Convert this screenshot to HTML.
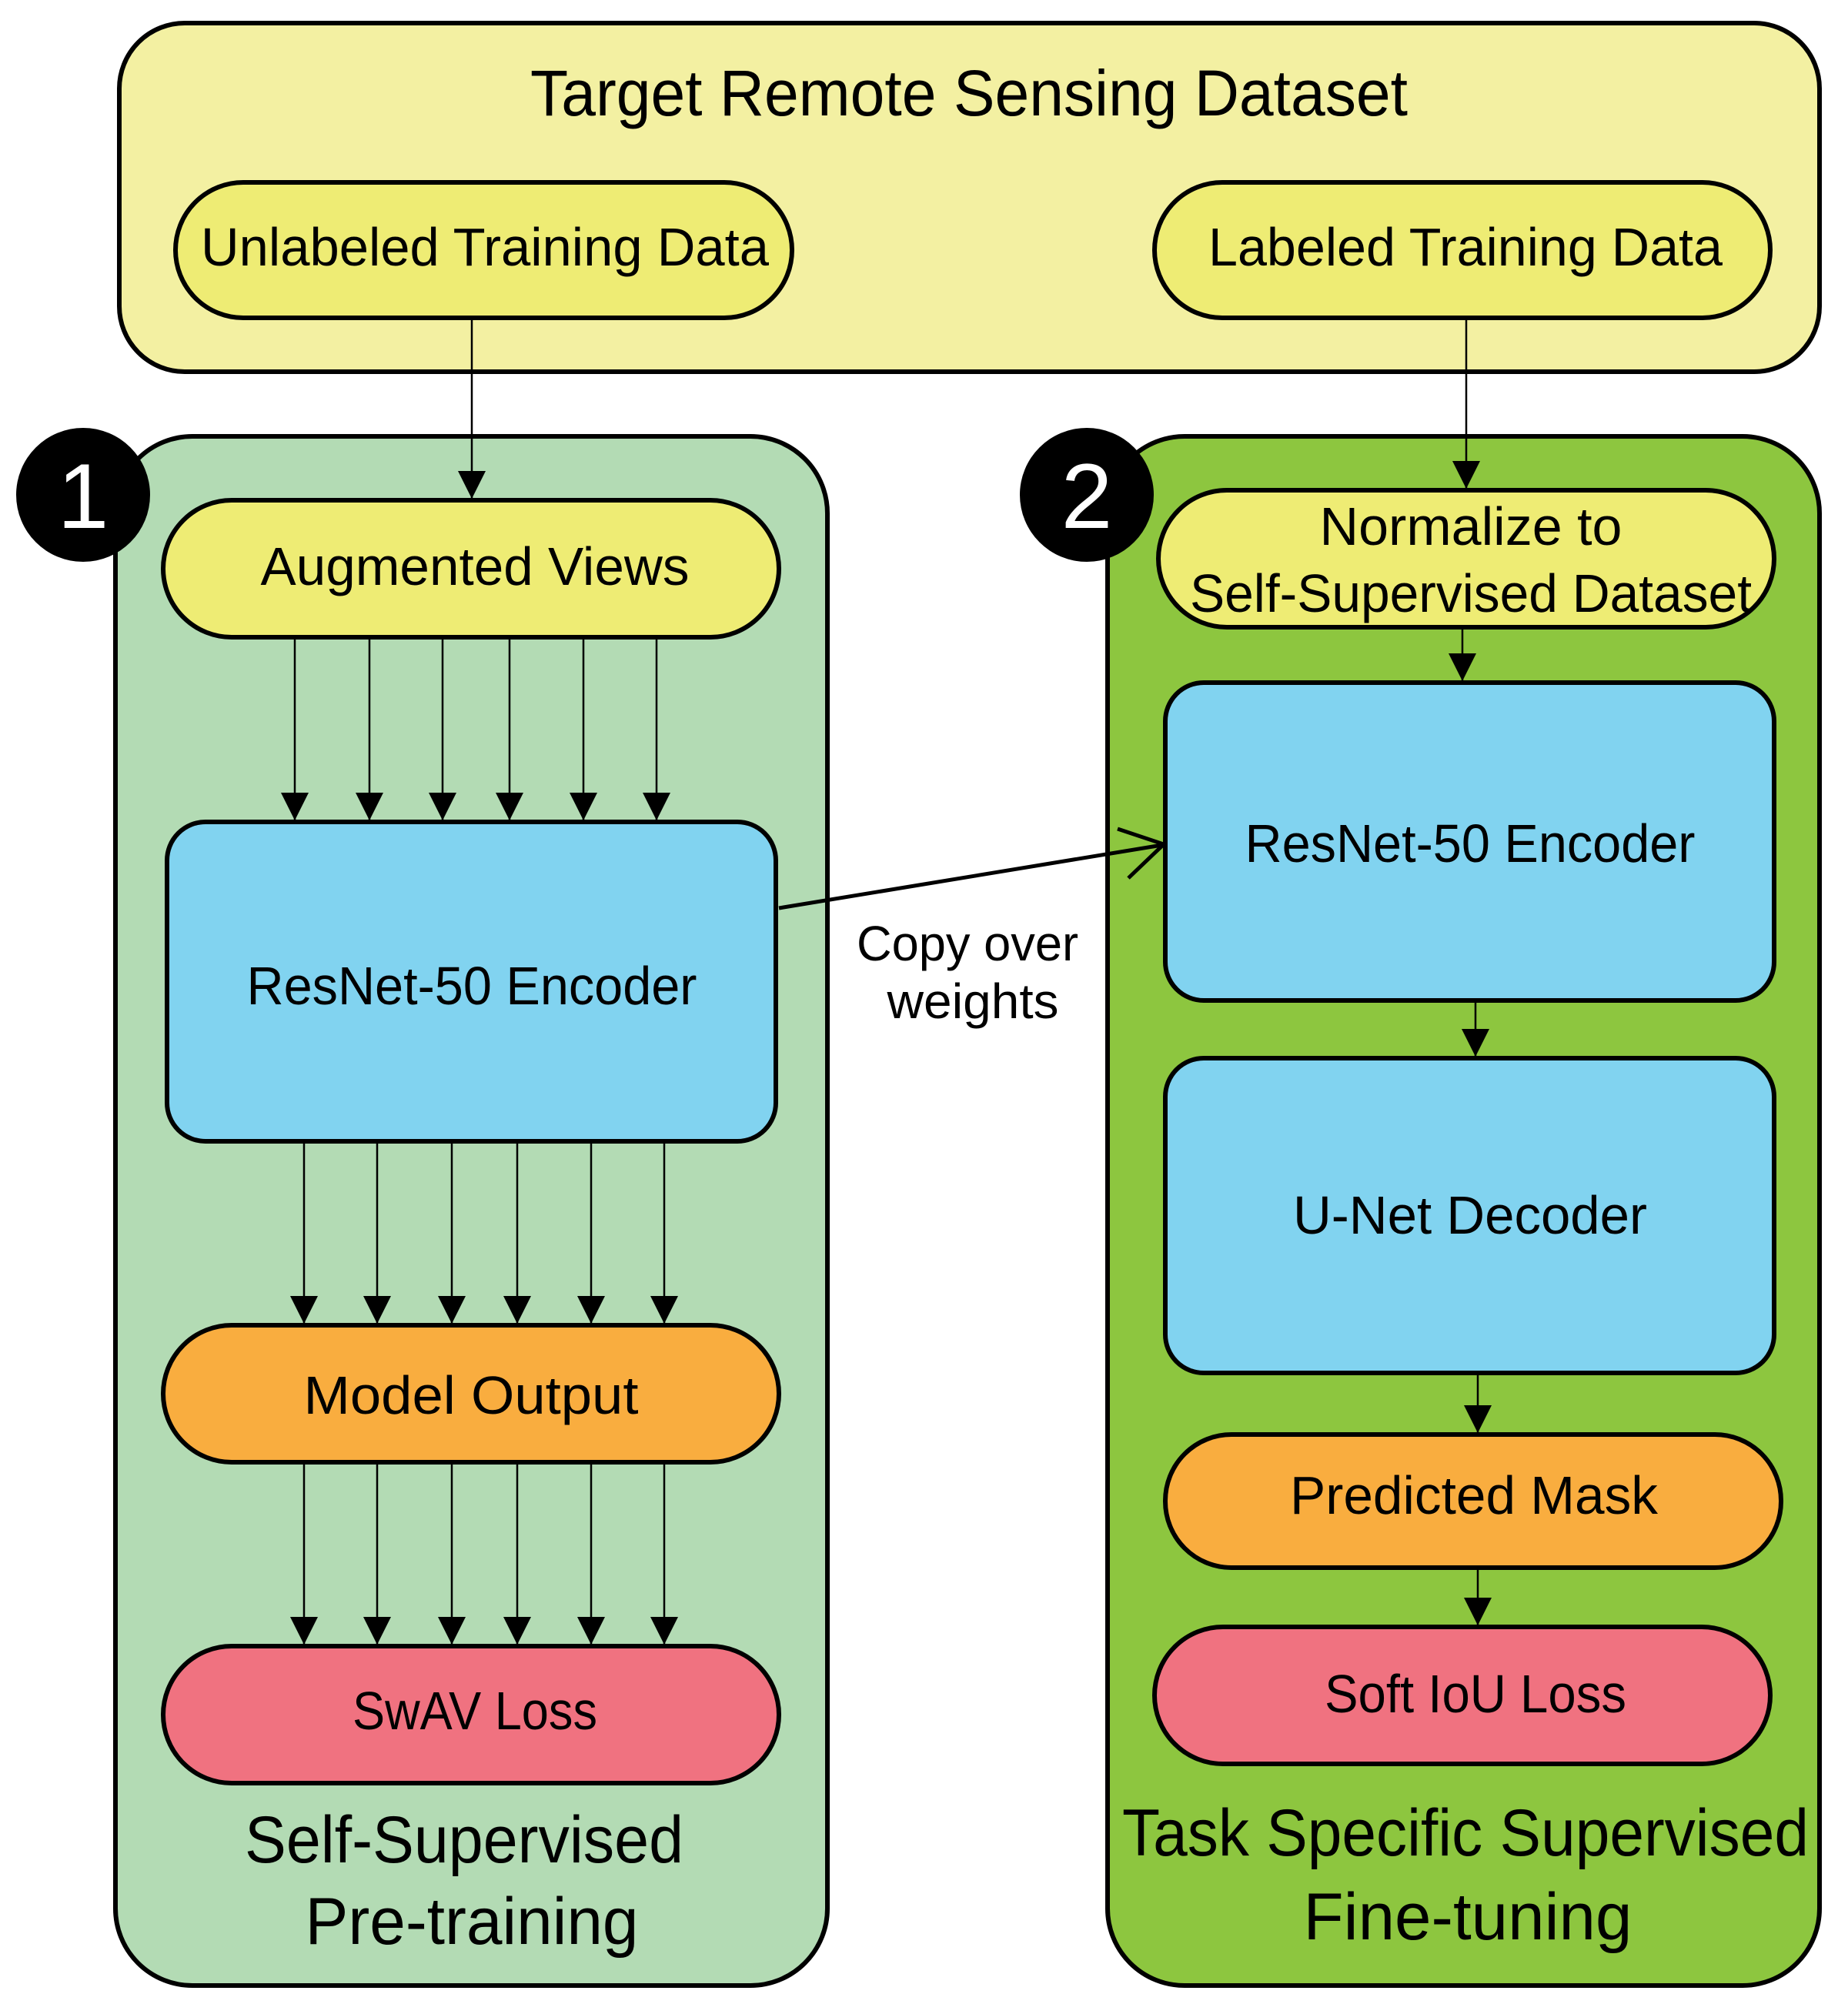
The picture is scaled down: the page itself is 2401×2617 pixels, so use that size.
<!DOCTYPE html>
<html><head><meta charset="utf-8"><style>html,body{margin:0;padding:0;background:#fff}svg{display:block}</style></head>
<body>
<svg width="2401" height="2617" viewBox="0 0 2401 2617" xmlns="http://www.w3.org/2000/svg" font-family="Liberation Sans, sans-serif">
<defs>
<marker id="a" markerWidth="10" markerHeight="10" refX="10" refY="5" orient="auto" markerUnits="userSpaceOnUse" viewBox="0 0 10 10"><path d="M0,0 L10,5 L0,10 z" fill="#000"/></marker>
<marker id="t" viewBox="0 0 10 10" refX="10" refY="5" markerWidth="36" markerHeight="36" orient="auto" markerUnits="userSpaceOnUse"><path d="M0,0 L10,5 L0,10 z" fill="#000"/></marker>
</defs>
<g stroke="#000" stroke-width="6">
<rect x="155" y="30" width="2209" height="453" rx="85" fill="#f3f0a2"/>
<rect x="228" y="237" width="801" height="176" rx="88" fill="#eeec74"/>
<rect x="1500" y="237" width="800" height="176" rx="88" fill="#eeec74"/>
<rect x="150" y="567" width="925" height="2013" rx="100" fill="#b3dbb4"/>
<rect x="1439" y="567" width="925" height="2013" rx="100" fill="#8dc63f"/>
<rect x="212" y="650" width="800" height="178" rx="89" fill="#eeec74"/>
<rect x="217" y="1068" width="791" height="415" rx="50" fill="#81d3f0"/>
<rect x="212" y="1722" width="800" height="178" rx="89" fill="#f9ad3f"/>
<rect x="212" y="2139" width="800" height="178" rx="89" fill="#f07280"/>
<rect x="1505" y="637" width="800" height="178" rx="89" fill="#eeec74"/>
<rect x="1514" y="887" width="791" height="413" rx="50" fill="#81d3f0"/>
<rect x="1514" y="1375" width="791" height="409" rx="50" fill="#81d3f0"/>
<rect x="1514" y="1864" width="800" height="173" rx="86" fill="#f9ad3f"/>
<rect x="1500" y="2114" width="800" height="178" rx="89" fill="#f07280"/>
</g>
<circle cx="108" cy="643" r="87" fill="#000"/>
<circle cx="1412" cy="643" r="87" fill="#000"/>
<text x="108" y="643" dy="0.36em" font-size="120" fill="#fff" text-anchor="middle">1</text>
<text x="1412" y="643" dy="0.36em" font-size="120" fill="#fff" text-anchor="middle">2</text>
<g stroke="#000" stroke-width="2.5" marker-end="url(#t)">
<line x1="613" y1="416" x2="613" y2="648"/>
<line x1="383" y1="831" x2="383" y2="1066"/>
<line x1="480" y1="831" x2="480" y2="1066"/>
<line x1="575" y1="831" x2="575" y2="1066"/>
<line x1="662" y1="831" x2="662" y2="1066"/>
<line x1="758" y1="831" x2="758" y2="1066"/>
<line x1="853" y1="831" x2="853" y2="1066"/>
<line x1="395" y1="1486" x2="395" y2="1720"/>
<line x1="490" y1="1486" x2="490" y2="1720"/>
<line x1="587" y1="1486" x2="587" y2="1720"/>
<line x1="672" y1="1486" x2="672" y2="1720"/>
<line x1="768" y1="1486" x2="768" y2="1720"/>
<line x1="863" y1="1486" x2="863" y2="1720"/>
<line x1="395" y1="1903" x2="395" y2="2137"/>
<line x1="490" y1="1903" x2="490" y2="2137"/>
<line x1="587" y1="1903" x2="587" y2="2137"/>
<line x1="672" y1="1903" x2="672" y2="2137"/>
<line x1="768" y1="1903" x2="768" y2="2137"/>
<line x1="863" y1="1903" x2="863" y2="2137"/>
<line x1="1905" y1="416" x2="1905" y2="635"/>
<line x1="1900" y1="818" x2="1900" y2="885"/>
<line x1="1917" y1="1303" x2="1917" y2="1373"/>
<line x1="1920" y1="1787" x2="1920" y2="1862"/>
<line x1="1920" y1="2040" x2="1920" y2="2112"/>
</g>
<line x1="1012" y1="1180" x2="1510" y2="1098" stroke="#000" stroke-width="5"/>
<polyline points="1452,1077 1512,1097 1466,1141" fill="none" stroke="#000" stroke-width="5"/>
<g font-size="70" text-anchor="middle" fill="#000" lengthAdjust="spacingAndGlyphs">
<text x="1259" y="120" dy="0.36em" font-size="84" textLength="1140" lengthAdjust="spacingAndGlyphs">Target Remote Sensing Dataset</text>
<text x="630" y="320" dy="0.36em" textLength="738" lengthAdjust="spacingAndGlyphs">Unlabeled Training Data</text>
<text x="1904" y="320" dy="0.36em" textLength="668" lengthAdjust="spacingAndGlyphs">Labeled Training Data</text>
<text x="617" y="735" dy="0.36em" textLength="557" lengthAdjust="spacingAndGlyphs">Augmented Views</text>
<text x="613" y="1280" dy="0.36em" textLength="585" lengthAdjust="spacingAndGlyphs">ResNet-50 Encoder</text>
<text x="612" y="1812" dy="0.36em" textLength="435" lengthAdjust="spacingAndGlyphs">Model Output</text>
<text x="617" y="2222" dy="0.36em" textLength="318" lengthAdjust="spacingAndGlyphs">SwAV Loss</text>
<text x="603" y="2389" dy="0.36em" font-size="86" textLength="570" lengthAdjust="spacingAndGlyphs">Self-Supervised</text>
<text x="613" y="2495" dy="0.36em" font-size="86" textLength="433" lengthAdjust="spacingAndGlyphs">Pre-training</text>
<text x="1911" y="683" dy="0.36em" textLength="393" lengthAdjust="spacingAndGlyphs">Normalize to</text>
<text x="1911" y="770" dy="0.36em" textLength="730" lengthAdjust="spacingAndGlyphs">Self-Supervised Dataset</text>
<text x="1910" y="1095" dy="0.36em" textLength="585" lengthAdjust="spacingAndGlyphs">ResNet-50 Encoder</text>
<text x="1910" y="1578" dy="0.36em" textLength="460" lengthAdjust="spacingAndGlyphs">U-Net Decoder</text>
<text x="1915" y="1942" dy="0.36em" textLength="478" lengthAdjust="spacingAndGlyphs">Predicted Mask</text>
<text x="1917" y="2200" dy="0.36em" textLength="392" lengthAdjust="spacingAndGlyphs">Soft IoU Loss</text>
<text x="1904" y="2380" dy="0.36em" font-size="86" textLength="892" lengthAdjust="spacingAndGlyphs">Task Specific Supervised</text>
<text x="1907" y="2489" dy="0.36em" font-size="86" textLength="427" lengthAdjust="spacingAndGlyphs">Fine-tuning</text>
<text x="1257" y="1225" dy="0.36em" font-size="64" textLength="288" lengthAdjust="spacingAndGlyphs">Copy over</text>
<text x="1264" y="1300" dy="0.36em" font-size="64" textLength="223" lengthAdjust="spacingAndGlyphs">weights</text>
</g>
</svg>
</body></html>
